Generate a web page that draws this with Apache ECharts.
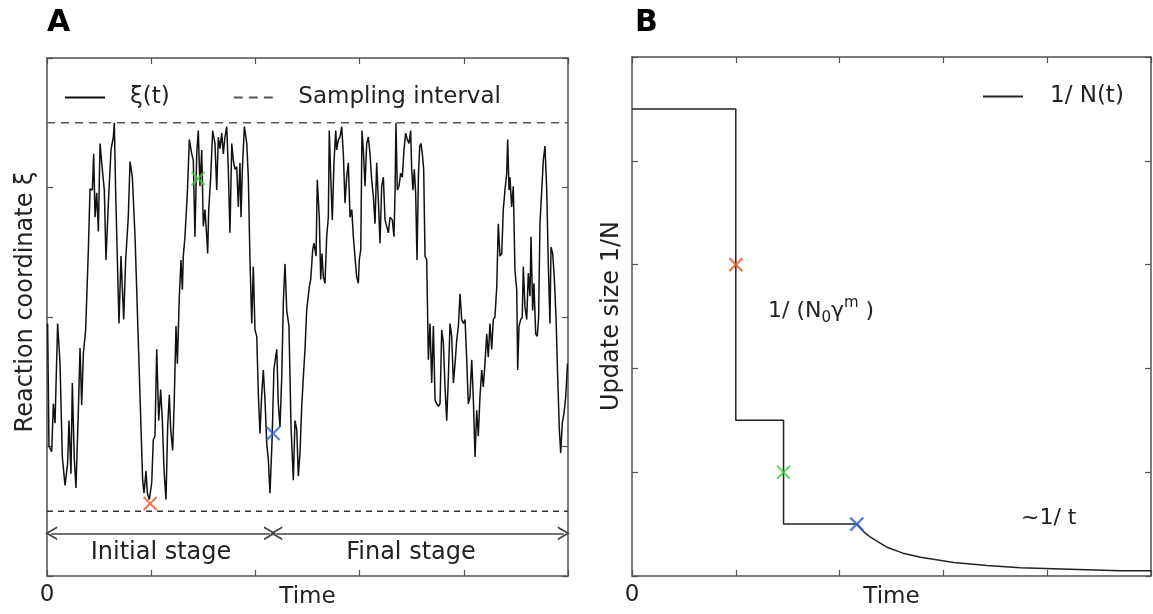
<!DOCTYPE html>
<html>
	<head>
		<meta charset="utf-8">
		<script type="text/javascript" src="https://cdn.jsdelivr.net/npm/echarts@6/dist/echarts.min.js"></script>
	</head>
	<body style="margin:0;">
		<div id="main" style="width:1153px;height:614px;"></div>

		<script type="text/javascript">
			// panel A : reaction coordinate trace (time, xi)
			var timeA = [0.006,0.019,0.045,0.061,0.077,0.102,0.125,0.147,0.173,0.198,0.211,0.230,0.243,0.262,0.278,0.301,0.317,0.333,0.349,0.371,
				0.397,0.413,0.435,0.448,0.461,0.477,0.493,0.509,0.531,0.550,0.566,0.589,0.614,0.637,0.646,0.659,0.691,0.710,0.736,0.755,
				0.780,0.797,0.819,0.845,0.918,0.931,0.950,0.963,0.982,1.005,1.020,1.036,1.053,1.072,1.091,1.107,1.123,1.142,1.158,1.174,
				1.187,1.206,1.222,1.238,1.251,1.270,1.286,1.299,1.308,1.324,1.347,1.366,1.389,1.404,1.420,1.437,1.452,1.468,1.485,1.500,
				1.516,1.533,1.542,1.552,1.571,1.590,1.612,1.629,1.644,1.660,1.677,1.692,1.708,1.725,1.740,1.756,1.773,1.788,1.804,1.821,
				1.836,1.852,1.862,1.875,1.894,1.917,1.932,1.948,1.965,1.980,1.996,2.013,2.028,2.044,2.061,2.076,2.092,2.109,2.124,2.140,
				2.160,2.178,2.205,2.220,2.236,2.253,2.268,2.284,2.301,2.322,2.342,2.364,2.380,2.397,2.412,2.428,2.444,2.461,2.476,2.492,
				2.517,2.531,2.550,2.562,2.582,2.594,2.613,2.627,2.639,2.652,2.668,2.684,2.700,2.709,2.726,2.738,2.754,2.771,2.780,2.796,
				2.812,2.828,2.844,2.860,2.876,2.892,2.908,2.925,2.940,2.956,2.972,2.988,2.997,3.011,3.023,3.036,3.052,3.068,3.084,3.100,
				3.116,3.132,3.148,3.164,3.180,3.196,3.212,3.228,3.244,3.260,3.276,3.292,3.314,3.330,3.340,3.349,3.362,3.378,3.394,3.410,
				3.426,3.442,3.458,3.474,3.490,3.500,3.512,3.525,3.538,3.551,3.564,3.577,3.589,3.602,3.615,3.628,3.644,3.660,3.676,3.692,
				3.708,3.724,3.740,3.756,3.772,3.788,3.804,3.820,3.836,3.852,3.868,3.884,3.900,3.916,3.932,3.948,3.964,3.980,3.996,4.012,
				4.028,4.043,4.059,4.076,4.091,4.108,4.124,4.139,4.155,4.172,4.187,4.203,4.220,4.235,4.251,4.268,4.283,4.299,4.316,4.331,
				4.347,4.364,4.379,4.395,4.412,4.421,4.434,4.443,4.459,4.475,4.491,4.508,4.517,4.530,4.546,4.561,4.571,4.587,4.604,4.619,
				4.635,4.645,4.661,4.673,4.690,4.705,4.718,4.731,4.748,4.763,4.779,4.796,4.811,4.827,4.837,4.853,4.868,4.885,4.901,4.917,
				4.930,4.945,4.962,4.978,4.995];
			var xiA = [1.95,1.00,0.96,1.33,1.18,1.95,1.64,0.92,0.70,0.87,1.20,0.79,1.49,0.90,0.68,1.28,1.76,1.32,1.72,1.90,
				2.52,2.99,2.98,3.26,2.77,2.96,2.66,3.34,3.14,2.98,2.44,2.88,3.29,3.39,3.50,2.96,1.95,2.47,1.98,2.44,
				2.77,3.20,3.08,2.62,0.74,0.64,0.81,0.64,0.59,0.72,1.05,1.08,1.75,1.20,1.44,1.20,0.82,0.59,1.15,1.40,
				1.13,0.97,1.38,1.93,1.64,2.16,2.44,2.21,2.47,2.62,2.96,3.37,3.26,3.21,2.62,3.26,3.44,3.01,3.29,2.70,
				2.83,2.62,2.49,2.83,3.08,3.44,3.34,2.98,3.39,3.30,3.42,3.26,3.39,3.47,3.14,2.65,3.34,3.21,3.14,3.16,
				2.85,3.19,2.77,3.14,3.47,3.34,3.08,2.44,1.95,2.39,1.90,1.85,1.41,1.10,1.41,1.59,1.36,1.02,0.90,0.64,
				1.05,1.60,1.75,1.33,1.15,1.54,2.11,2.41,2.05,1.93,1.15,0.74,1.20,1.13,0.77,0.95,1.30,1.55,1.75,2.05,
				2.23,2.29,2.52,2.57,2.47,3.06,2.77,2.29,2.49,2.31,2.26,2.62,2.77,3.44,3.01,2.75,3.19,3.44,3.29,3.37,
				3.39,3.47,3.26,2.88,3.08,3.19,2.77,2.83,2.62,2.62,2.31,2.26,2.44,2.52,3.44,3.29,3.01,3.34,3.39,3.26,
				3.06,2.93,2.72,3.19,2.90,2.57,3.01,3.08,2.75,2.70,2.65,2.77,2.75,2.62,2.96,3.50,2.98,3.01,3.11,3.08,
				3.29,3.42,3.37,3.34,3.44,3.14,2.98,3.14,2.96,2.44,3.08,3.32,3.34,3.26,3.14,2.47,2.44,1.67,1.95,1.49,
				1.93,1.36,1.33,1.31,1.33,1.90,1.80,1.46,1.20,1.54,1.95,1.85,1.49,1.64,1.82,1.93,2.18,1.98,1.95,1.98,
				1.67,1.33,1.38,1.67,1.38,0.92,1.28,1.08,1.38,1.59,1.46,1.64,1.87,1.69,1.95,1.75,1.98,2.00,2.23,2.72,
				2.47,2.49,2.83,2.98,3.11,3.37,2.98,3.08,2.85,3.01,2.36,2.21,1.59,1.93,1.98,2.00,2.39,2.08,1.98,2.34,
				2.16,2.62,2.05,2.26,1.87,1.85,2.00,2.72,2.98,3.21,3.32,2.98,2.41,1.95,2.54,2.49,2.31,2.00,1.54,1.13,
				0.95,1.18,1.26,1.38,1.64];
			var samplingLow = 0.5;
			var samplingHigh = 3.5;

			// panel B : update size 1/N(t)
			var timeB = [0, 1.0, 1.0, 1.46, 1.46, 2.165, 2.20, 2.25, 2.29, 2.45, 2.61, 2.78, 3.10, 3.42, 3.74, 4.06, 4.38, 4.70, 5.0];
			var invN = [4.5, 4.5, 1.5, 1.5, 0.5, 0.5, 0.46, 0.41, 0.38, 0.28, 0.22, 0.18, 0.13, 0.10, 0.08, 0.07, 0.06, 0.05, 0.05];

			// crosses: orange, green, blue
			var crossColors = ['#e35a2a', '#45cc45', '#2c5fd6'];
			var crossTimeA = [0.99, 1.45, 2.17];
			var crossXiA = [0.56, 3.07, 1.10];
			var crossTimeB = [1.0, 1.46, 2.165];
			var crossInvN = [3.0, 1.0, 0.5];

			var FONT = 'DejaVu Sans';
			var frameColor = '#505050';
			var crossPath = 'path://M0,0L10,10M10,0L0,10';
			var chevron = 'path://M0,10L5,0L10,10L8.6,10L5,2.8L1.4,10Z';
			// legend icons drawn as plain line pieces
			var solidIcon = 'path://M0,0H40V2H0Z';
			var dashIcon = 'path://M0,0H9V2H0Z M15,0H24V2H15Z M30,0H39V2H30Z';

			function zip(a, b) {
				var out = [];
				for (var i = 0; i < a.length; i++) out.push([a[i], b[i]]);
				return out;
			}

			function frameAxis(pos, gridIndex, max, labelled, name) {
				return {
					type: 'value', gridIndex: gridIndex, position: pos,
					min: 0, max: max, interval: 1,
					axisLine: { show: true, onZero: false, lineStyle: { color: frameColor, width: 1.5 } },
					axisTick: { show: true, inside: true, length: 6, lineStyle: { color: frameColor, width: 1.2 } },
					axisLabel: {
						show: labelled, margin: 8, fontFamily: FONT, fontSize: 23, color: '#222',
						formatter: function (v) { return v === 0 ? '0' : ''; }
					},
					splitLine: { show: false },
					name: name || '', nameLocation: 'middle', nameGap: 10, nameMoveOverlap: false,
					nameTextStyle: { fontFamily: FONT, fontSize: 23, color: '#222' }
				};
			}

			var crossSeries = function (t, v, xi, yi) {
				var list = [];
				for (var i = 0; i < t.length; i++) {
					list.push({
						type: 'scatter', xAxisIndex: xi, yAxisIndex: yi, silent: true, z: 5,
						symbol: crossPath, symbolSize: 13,
						itemStyle: { color: 'none', borderColor: crossColors[i], borderWidth: 2.2 },
						data: [[t[i], v[i]]]
					});
				}
				return list;
			};

			var myChart = echarts.init(document.getElementById('main'));

			var option = {
				animation: false,
				backgroundColor: '#ffffff',
				title: [
					{ text: 'A', left: 42, top: 3, textStyle: { fontFamily: FONT, fontSize: 30, fontWeight: 'bold', color: '#000' } },
					{ text: 'B', left: 630, top: 3, textStyle: { fontFamily: FONT, fontSize: 30, fontWeight: 'bold', color: '#000' } }
				],
				grid: [
					{ left: 47, top: 58, width: 521, height: 518, outerBoundsMode: 'none', containLabel: false },
					{ left: 632, top: 57, width: 519, height: 519, outerBoundsMode: 'none', containLabel: false }
				],
				legend: [
					{
						data: [{ name: 'ξ(t)', icon: solidIcon }, { name: 'Sampling interval', icon: dashIcon }],
						left: 60, top: 81,
						itemWidth: 40, itemHeight: 2, itemGap: 64,
						textStyle: { fontFamily: FONT, fontSize: 23, color: '#222', padding: [0, 0, 0, 20] }
					},
					{
						data: [{ name: '1/ N(t)', icon: solidIcon }], left: 978, top: 80,
						itemWidth: 40, itemHeight: 2,
						textStyle: { fontFamily: FONT, fontSize: 23, color: '#222', padding: [0, 0, 0, 22] }
					}
				],
				xAxis: [
					frameAxis('bottom', 0, 5, true, 'Time'),
					frameAxis('top', 0, 5, false),
					frameAxis('bottom', 1, 5, true, 'Time'),
					frameAxis('top', 1, 5, false)
				],
				yAxis: [
					frameAxis('left', 0, 4, false),
					frameAxis('right', 0, 4, false),
					frameAxis('left', 1, 5, false),
					frameAxis('right', 1, 5, false)
				],
				graphic: [
					{ type: 'text', x: 26, y: 302, rotation: Math.PI / 2,
						style: { text: 'Reaction coordinate ξ', fontFamily: FONT, fontSize: 24, fill: '#222', align: 'center', verticalAlign: 'middle' } },
					{ type: 'text', x: 612, y: 316, rotation: Math.PI / 2,
						style: { text: 'Update size 1/N', fontFamily: FONT, fontSize: 24, fill: '#222', align: 'center', verticalAlign: 'middle' } },
					{ type: 'text', x: 161, y: 553,
						style: { text: 'Initial stage', fontFamily: FONT, fontSize: 24, fill: '#222', align: 'center', verticalAlign: 'middle' } },
					{ type: 'text', x: 411, y: 553,
						style: { text: 'Final stage', fontFamily: FONT, fontSize: 24, fill: '#222', align: 'center', verticalAlign: 'middle' } },
					{ type: 'text', x: 768, y: 296,
						style: {
							text: '{b|1/ (N}{sub|0}{b|γ}{sup|m}{b| )}', fontFamily: FONT, fill: '#222',
							rich: {
								b: { fontFamily: FONT, fontSize: 22, lineHeight: 30, color: '#222' },
								sub: { fontFamily: FONT, fontSize: 15, lineHeight: 30, verticalAlign: 'bottom', color: '#222' },
								sup: { fontFamily: FONT, fontSize: 15, lineHeight: 30, verticalAlign: 'top', color: '#222' }
							}
						} },
					{ type: 'text', x: 1021, y: 518,
						style: { text: '~1/ t', fontFamily: FONT, fontSize: 22, fill: '#222', align: 'left', verticalAlign: 'middle' } }
				],
				series: [
					{
						name: 'ξ(t)', type: 'line', xAxisIndex: 0, yAxisIndex: 0,
						symbol: 'none', silent: true,
						lineStyle: { color: '#111', width: 1.5 },
						itemStyle: { color: '#111' },
						data: zip(timeA, xiA),
						markLine: {
							silent: true, symbol: [chevron, chevron], symbolSize: [14, 12],
							label: { show: false },
							lineStyle: { color: '#444', width: 1.5, type: 'solid' },
							data: [
								[{ coord: [0.04, 0.33] }, { coord: [2.14, 0.33] }],
								[{ coord: [2.20, 0.33] }, { coord: [4.96, 0.33] }]
							]
						}
					},
					{
						name: 'Sampling interval', type: 'line', xAxisIndex: 0, yAxisIndex: 0,
						symbol: 'none', silent: true,
						lineStyle: { color: '#555', width: 1.6, type: [8, 6] },
						itemStyle: { color: '#555' },
						data: [[0, samplingHigh], [5, samplingHigh]]
					},
					{
						name: 'Sampling interval', type: 'line', xAxisIndex: 0, yAxisIndex: 0,
						symbol: 'none', silent: true,
						lineStyle: { color: '#333', width: 1.3, type: [6, 5] },
						itemStyle: { color: '#333' },
						data: [[0, samplingLow], [5, samplingLow]]
					},
					{
						name: '1/ N(t)', type: 'line', xAxisIndex: 2, yAxisIndex: 2,
						symbol: 'none', silent: true,
						lineStyle: { color: '#222', width: 1.5 },
						itemStyle: { color: '#222' },
						data: zip(timeB, invN)
					}
				].concat(crossSeries(crossTimeA, crossXiA, 0, 0))
				 .concat(crossSeries(crossTimeB, crossInvN, 2, 2))
			};

			myChart.setOption(option);
		</script>
	</body>
</html>
